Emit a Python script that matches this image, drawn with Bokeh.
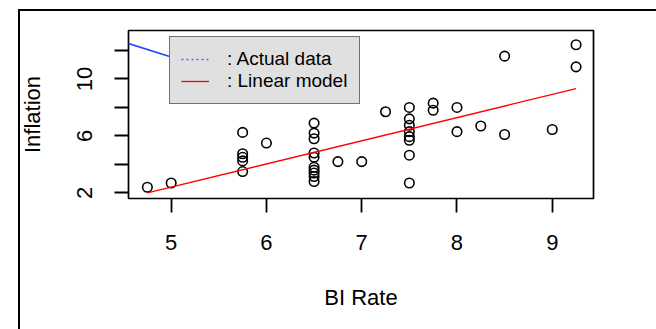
import math
from bokeh.plotting import figure
from bokeh.layouts import column
from bokeh.models import (FixedTicker, Range1d, Legend, LegendItem, Div)
from bokeh.embed import file_html
from bokeh.resources import INLINE

# ---- data ----
bi_rate = [4.75, 5.0,
           5.75, 5.75, 5.75, 5.75, 5.75,
           6.0,
           6.5, 6.5, 6.5, 6.5, 6.5, 6.5, 6.5, 6.5, 6.5, 6.5,
           6.75, 7.0, 7.25,
           7.5, 7.5, 7.5, 7.5, 7.5, 7.5, 7.5, 7.5,
           7.75, 7.75, 8.0, 8.0, 8.25, 8.5, 8.5, 9.0, 9.25, 9.25]
inflation = [2.4, 2.7,
             6.25, 4.75, 4.5, 4.25, 3.5,
             5.5,
             6.9, 6.2, 5.8, 4.8, 4.5, 3.8, 3.6, 3.4, 3.15, 2.8,
             4.2, 4.2, 7.7,
             8.0, 7.2, 6.75, 6.3, 5.95, 5.7, 4.65, 2.7,
             8.3, 7.8, 8.0, 6.3, 6.7, 11.6, 6.1, 6.45, 12.4, 10.85]

actual_x = [4.4, 5.05]
actual_y = [12.81, 11.43]

model_x = [4.75, 9.25]
model_y = [2.0, 9.32]

x_ticks = [5, 6, 7, 8, 9]
y_ticks = [2, 4, 6, 8, 10, 12]
y_hidden = {4: "", 8: "", 12: ""}

FONT = "Liberation Sans"

p = figure(width=656, height=329, output_backend="svg", toolbar_location=None,
           x_range=Range1d(4.552, 9.433), y_range=Range1d(1.61, 13.40),
           min_border_left=128, min_border_right=63,
           min_border_top=30, min_border_bottom=131)
p.grid.visible = False
p.outline_line_color = "black"
p.outline_line_width = 1.7
p.background_fill_color = "white"
p.border_fill_color = "white"

p.scatter(bi_rate, inflation, marker="circle", size=9.5, fill_color=None,
          line_color="black", line_width=1.6)
p.line(actual_x, actual_y, line_color="#2040ff", line_width=1.5)
red = p.line(model_x, model_y, line_color="red", line_width=1.3)
# legend-only renderer (nothing visible in the plot area)
dummy = p.line(x=[math.nan], y=[math.nan], line_color="#5a5aff",
               line_dash="2 3", line_width=1.4)

for ax in (p.xaxis[0], p.yaxis[0]):
    ax.axis_line_color = None
    ax.major_tick_line_color = "black"
    ax.major_tick_line_width = 1.8
    ax.major_tick_in = 0
    ax.major_tick_out = 14
    ax.minor_tick_line_color = None
    ax.major_label_text_font = FONT
    ax.major_label_text_font_size = "22px"
    ax.major_label_text_color = "black"
    ax.axis_label_text_font = FONT
    ax.axis_label_text_font_size = "22px"
    ax.axis_label_text_font_style = "normal"
    ax.axis_label_text_color = "black"

p.xaxis[0].ticker = FixedTicker(ticks=x_ticks)
p.xaxis[0].major_label_standoff = 22
p.xaxis[0].axis_label = "BI Rate"
p.xaxis[0].axis_label_standoff = 32

p.yaxis[0].ticker = FixedTicker(ticks=y_ticks)
p.yaxis[0].major_label_overrides = y_hidden
p.yaxis[0].major_label_orientation = "vertical"
p.yaxis[0].major_label_standoff = 22
p.yaxis[0].axis_label = "Inflation"
p.yaxis[0].axis_label_standoff = 30

legend = Legend(items=[LegendItem(label=": Actual data", renderers=[dummy]),
                       LegendItem(label=": Linear model", renderers=[red])],
                location=(41, 94), padding=11, spacing=0, margin=0,
                glyph_height=22, glyph_width=28, label_height=22,
                label_standoff=18, label_width=121,
                label_text_font=FONT, label_text_font_size="19px",
                label_text_color="black",
                border_line_color="black", border_line_width=1.7,
                background_fill_color="#e0e0e0", background_fill_alpha=1.0)
p.add_layout(legend)

# outer page frame (bottom edge lies below the visible window)
frame_div = Div(text="", styles={
    "position": "absolute", "left": "13px", "top": "4px",
    "width": "640px", "height": "325px", "box-sizing": "border-box",
    "border-left": "2.5px solid black", "border-top": "2.5px solid black",
    "border-right": "2.5px solid black", "border-bottom": "none",
    "pointer-events": "none"})

layout = column(p, frame_div, spacing=0)

open("out.html", "w").write(file_html(layout, INLINE))
